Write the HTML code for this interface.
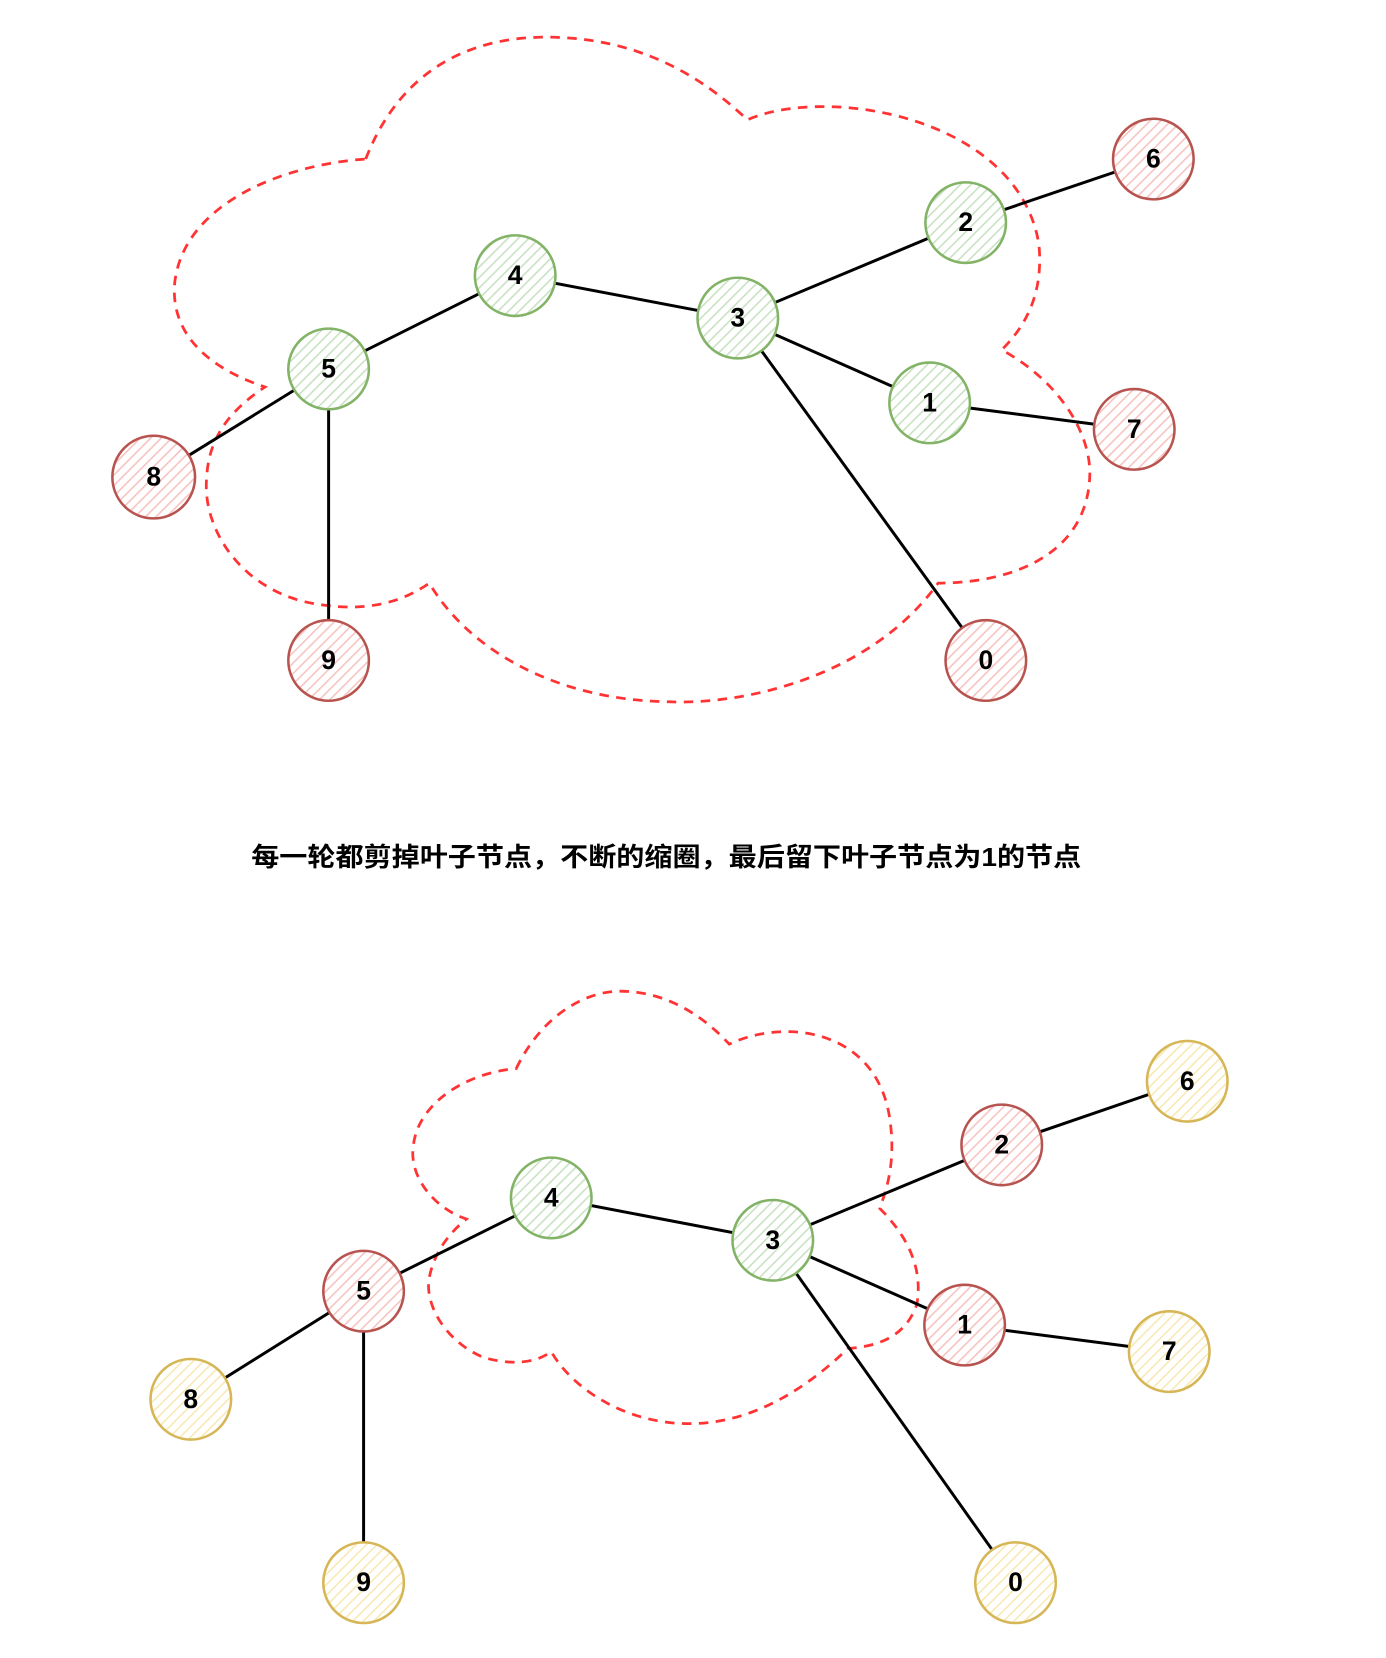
<!DOCTYPE html>
<html><head><meta charset="utf-8"><style>html,body{margin:0;padding:0;background:#fff}svg{display:block}</style></head>
<body>
<svg width="1386" height="1658" viewBox="0 0 1307.5 1564" xmlns="http://www.w3.org/2000/svg">
<defs>
<pattern id="hg" width="7" height="7" patternUnits="userSpaceOnUse" patternTransform="rotate(45)"><rect width="7" height="7" fill="#fff"/><line x1="0" y1="0" x2="0" y2="7" stroke="#c9e2c3" stroke-width="3"/></pattern>
<pattern id="hr" width="7" height="7" patternUnits="userSpaceOnUse" patternTransform="rotate(45)"><rect width="7" height="7" fill="#fff"/><line x1="0" y1="0" x2="0" y2="7" stroke="#f6c4c1" stroke-width="3"/></pattern>
<pattern id="hy" width="7" height="7" patternUnits="userSpaceOnUse" patternTransform="rotate(45)"><rect width="7" height="7" fill="#fff"/><line x1="0" y1="0" x2="0" y2="7" stroke="#f8e9b4" stroke-width="3"/></pattern>
</defs>
<g fill="none" stroke="#ff3333" stroke-width="2.6" stroke-dasharray="9,7">
<path d="M345,150 C380,60 450,35 515,35 C600,35 660,70 705,113 C780,80 960,110 980,230 C985,280 965,310 945,330 C1000,360 1030,410 1028,450 C1025,520 960,550 885,550 C820,640 700,665 630,662 C520,660 440,610 405,550 C370,575 330,575 300,570 C230,560 190,500 195,450 C197,410 220,385 250,365 C190,345 160,310 165,265 C175,190 270,155 345,150 Z"/>
<path d="M487,1008 C510,960 550,935 585,935 C630,935 665,960 688,985 C740,960 830,970 840,1060 C845,1100 835,1125 830,1140 C860,1170 870,1200 865,1230 C855,1260 830,1270 800,1272 C750,1320 700,1343 650,1343 C590,1343 540,1310 520,1275 C500,1290 470,1285 455,1280 C420,1265 400,1230 405,1205 C410,1180 425,1162 440,1150 C410,1140 385,1110 390,1080 C395,1040 440,1012 487,1008 Z"/>
</g>
<g stroke="#000" stroke-width="2.8" fill="none">
<line x1="310" y1="348" x2="486" y2="260"/><line x1="486" y1="260" x2="696" y2="300"/>
<line x1="696" y1="300" x2="911" y2="210"/><line x1="911" y1="210" x2="1088" y2="150"/>
<line x1="696" y1="300" x2="877" y2="380"/><line x1="877" y1="380" x2="1070" y2="405"/>
<line x1="696" y1="300" x2="930" y2="623"/><line x1="310" y1="348" x2="145" y2="450"/>
<line x1="310" y1="348" x2="310" y2="623"/>
<line x1="343" y1="1218" x2="520" y2="1130"/><line x1="520" y1="1130" x2="729" y2="1170"/>
<line x1="729" y1="1170" x2="945" y2="1080"/><line x1="945" y1="1080" x2="1120" y2="1020"/>
<line x1="729" y1="1170" x2="910" y2="1250"/><line x1="910" y1="1250" x2="1103" y2="1275"/>
<line x1="729" y1="1170" x2="958" y2="1493"/><line x1="343" y1="1218" x2="180" y2="1320"/>
<line x1="343" y1="1218" x2="343" y2="1493"/>
</g>
<g stroke-width="2.4" font-family="Liberation Sans, sans-serif" font-weight="bold" font-size="25" text-anchor="middle">
<g stroke="#82b366" fill="url(#hg)">
<circle cx="486" cy="260" r="38"/><circle cx="696" cy="300" r="38"/><circle cx="911" cy="210" r="38"/><circle cx="877" cy="380" r="38"/><circle cx="310" cy="348" r="38"/>
<circle cx="520" cy="1130" r="38"/><circle cx="729" cy="1170" r="38"/>
</g>
<g stroke="#b85450" fill="url(#hr)">
<circle cx="1088" cy="150" r="38"/><circle cx="1070" cy="405" r="38"/><circle cx="145" cy="450" r="39"/><circle cx="310" cy="623" r="38"/><circle cx="930" cy="623" r="38"/>
<circle cx="945" cy="1080" r="38"/><circle cx="910" cy="1250" r="38"/><circle cx="343" cy="1218" r="38"/>
</g>
<g stroke="#d6b656" fill="url(#hy)">
<circle cx="1120" cy="1020" r="38"/><circle cx="1103" cy="1275" r="38"/><circle cx="180" cy="1320" r="38"/><circle cx="343" cy="1493" r="38"/><circle cx="958" cy="1493" r="38"/>
</g>
<g fill="#000" stroke="none">
<text x="486" y="268">4</text><text x="696" y="308">3</text><text x="911" y="218">2</text><text x="877" y="388">1</text><text x="310" y="356">5</text>
<text x="1088" y="158">6</text><text x="1070" y="413">7</text><text x="145" y="458">8</text><text x="310" y="631">9</text><text x="930" y="631">0</text>
<text x="520" y="1138">4</text><text x="729" y="1178">3</text><text x="945" y="1088">2</text><text x="910" y="1258">1</text><text x="343" y="1226">5</text>
<text x="1120" y="1028">6</text><text x="1103" y="1283">7</text><text x="180" y="1328">8</text><text x="343" y="1501">9</text><text x="958" y="1501">0</text>
</g>
</g>
<text x="237" y="817" font-family="Liberation Sans, 'Noto Sans CJK SC', sans-serif" font-weight="bold" font-size="24.5" textLength="783" lengthAdjust="spacingAndGlyphs" fill="#000">每一轮都剪掉叶子节点，不断的缩圈，最后留下叶子节点为1的节点</text>
</svg>
</body></html>
